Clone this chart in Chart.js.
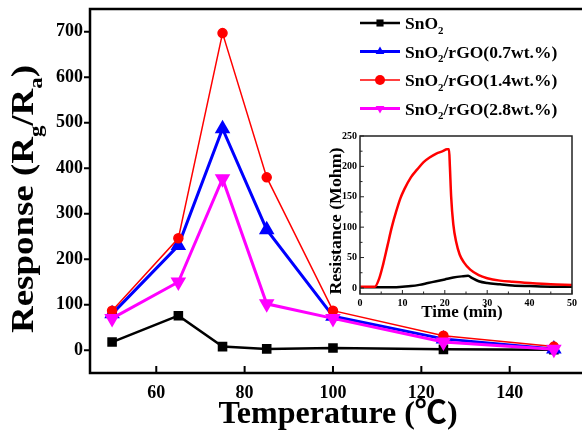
<!DOCTYPE html>
<html>
<head>
<meta charset="utf-8">
<script src="https://cdn.jsdelivr.net/npm/chart.js@4.4.0/dist/chart.umd.min.js"></script>
<style>
  body{margin:0;background:#fff;}
  #wrap{position:relative;width:582px;height:435px;overflow:hidden;}
  #main{position:absolute;left:0;top:0;}
  #inset{position:absolute;left:300px;top:125px;}
</style>
</head>
<body>
<div id="wrap">
  <canvas id="main" width="582" height="435"></canvas>
  <canvas id="inset" width="282" height="205"></canvas>
</div>
<script>
// main chart data
var temps  = [50, 65, 75, 85, 100, 125, 150];
var snO2   = [18, 76, 8, 3, 5, 2, 1];
var rgo07  = [80, 230, 487, 265, 75, 25, 3];
var rgo14  = [87, 246, 697, 380, 87, 32, 8];
var rgo28  = [70, 150, 377, 102, 70, 18, 2];
var xTicks = [60, 80, 100, 120, 140];
var yTicks = [0, 100, 200, 300, 400, 500, 600, 700];

// inset: resistance vs time
var redTime = [0, 3.5, 4.5, 5.5, 6.5, 7.5, 8.5, 9.5, 10.5, 12, 13.5, 15, 16.5, 18, 19.5, 20.5, 21, 21.2, 21.5, 22, 22.7, 23.5, 24.5, 26, 28, 30, 33, 36, 40, 45, 50];
var redRes  = [2, 2, 15, 40, 70, 100, 125, 147, 163, 182, 195, 207, 215, 221, 225, 228, 228, 200, 150, 105, 75, 55, 42, 30, 21, 16, 12, 10, 8, 6, 5];
var blkTime = [0, 8, 10, 12, 14, 16, 18, 20, 22, 24, 25.5, 26.5, 28, 30, 33, 36, 40, 45, 50];
var blkRes  = [1, 1, 2, 3, 5, 8, 11, 14, 17, 19, 20, 16, 11, 8, 6, 4, 3, 2, 2];
var inXTicks = [0, 10, 20, 30, 40, 50];
var inYTicks = [0, 50, 100, 150, 200, 250];

var FAM = '"Liberation Serif", "Times New Roman", "Noto Sans CJK SC", serif';

function pts(xs, ys){ return xs.map(function(v,i){ return {x:v, y:ys[i]}; }); }

function richWidth(ctx, parts, size){
    var w = 0;
    parts.forEach(function(p){
        ctx.font = 'bold ' + (p[1] ? size*0.62 : size) + 'px ' + FAM;
        w += ctx.measureText(p[0]).width;
    });
    return w;
}
function drawRich(ctx, parts, x, y, size){
    var cx = x;
    parts.forEach(function(p){
        ctx.font = 'bold ' + (p[1] ? size*0.62 : size) + 'px ' + FAM;
        ctx.fillText(p[0], cx, y + (p[1] ? size*0.28 : 0));
        cx += ctx.measureText(p[0]).width;
    });
}
function marker(ctx, style, x, y, r, color){
    ctx.fillStyle = color;
    ctx.beginPath();
    if (style === 'rect'){ ctx.rect(x-r*0.71, y-r*0.71, r*1.42, r*1.42); }
    else if (style === 'circle'){ ctx.arc(x, y, r, 0, Math.PI*2); }
    else if (style === 'up'){ ctx.moveTo(x, y-r); ctx.lineTo(x+r*0.87, y+r*0.5); ctx.lineTo(x-r*0.87, y+r*0.5); ctx.closePath(); }
    else { ctx.moveTo(x, y+r); ctx.lineTo(x+r*0.87, y-r*0.5); ctx.lineTo(x-r*0.87, y-r*0.5); ctx.closePath(); }
    ctx.fill();
}
function noPad(s){ s.paddingTop = 0; s.paddingBottom = 0; s.paddingLeft = 0; s.paddingRight = 0; }

var legendRows = [
    {parts:[['SnO'],['2',1]], color:'#000000', w:2.5, m:'rect'},
    {parts:[['SnO'],['2',1],['/rGO(0.7wt.%)']], color:'#0000ff', w:3, m:'up'},
    {parts:[['SnO'],['2',1],['/rGO(1.4wt.%)']], color:'#ff0000', w:1.5, m:'circle'},
    {parts:[['SnO'],['2',1],['/rGO(2.8wt.%)']], color:'#ff00ff', w:3, m:'down'}
];

var mainDeco = {
    id: 'mainDeco',
    afterDraw: function(chart){
        var ctx = chart.ctx, a = chart.chartArea, xs = chart.scales.x, ys = chart.scales.y;
        ctx.save();
        ctx.strokeStyle = '#000';
        ctx.lineWidth = 2.5;
        ctx.beginPath();
        ctx.moveTo(chart.width, a.top); ctx.lineTo(a.left, a.top);
        ctx.lineTo(a.left, a.bottom); ctx.lineTo(chart.width, a.bottom);
        ctx.stroke();
        ctx.lineWidth = 2;
        ctx.beginPath();
        xTicks.forEach(function(v){
            var p = xs.getPixelForValue(v);
            ctx.moveTo(p, a.bottom); ctx.lineTo(p, a.bottom-7);
        });
        yTicks.forEach(function(v){
            var p = ys.getPixelForValue(v);
            ctx.moveTo(a.left-6, p); ctx.lineTo(a.left, p);
        });
        ctx.stroke();

        // axis titles
        ctx.fillStyle = '#000';
        ctx.textBaseline = 'alphabetic';
        var xt = [['Temperature (\u2103)']];
        var w = richWidth(ctx, xt, 32);
        drawRich(ctx, xt, 338 - w/2, 423, 32);

        var yt = [['Response (R'],['g',1],['/R'],['a',1],[')']];
        ctx.save();
        ctx.translate(33, 199);
        ctx.rotate(-Math.PI/2);
        var wy = richWidth(ctx, yt, 32);
        ctx.scale(268/wy, 1);
        drawRich(ctx, yt, -wy/2, 0, 32);
        ctx.restore();

        // legend
        legendRows.forEach(function(r, i){
            var y = 23 + i*28.5;
            ctx.strokeStyle = r.color; ctx.lineWidth = r.w;
            ctx.beginPath(); ctx.moveTo(360, y); ctx.lineTo(400, y); ctx.stroke();
            marker(ctx, r.m, 380, y, 5, r.color);
            ctx.fillStyle = '#000';
            drawRich(ctx, r.parts, 405, y + 6, 17.5);
        });
        ctx.restore();
    }
};

var boldTick = {family: FAM, size: 18, weight: 'bold'};

new Chart(document.getElementById('main'), {
    type: 'scatter',
    data: {
        datasets: [
            {label:'SnO2', data: pts(temps, snO2), showLine:true, borderColor:'#000', backgroundColor:'#000', borderWidth:2.5, pointStyle:'rect', pointRadius:5, order:4},
            {label:'SnO2/rGO(0.7wt.%)', data: pts(temps, rgo07), showLine:true, borderColor:'#0000ff', backgroundColor:'#0000ff', borderWidth:3, pointStyle:'triangle', pointRadius:6, order:3},
            {label:'SnO2/rGO(1.4wt.%)', data: pts(temps, rgo14), showLine:true, borderColor:'#ff0000', backgroundColor:'#ff0000', borderWidth:1.5, pointStyle:'circle', pointRadius:4.5, order:2},
            {label:'SnO2/rGO(2.8wt.%)', data: pts(temps, rgo28), showLine:true, borderColor:'#ff00ff', backgroundColor:'#ff00ff', borderWidth:3, pointStyle:'triangle', pointRotation:180, pointRadius:6, order:1}
        ]
    },
    options: {
        responsive: false,
        animation: false,
        layout: {padding: {top: 8, right: 0, left: 0, bottom: 0}},
        plugins: {legend: {display: false}, tooltip: {enabled: false}},
        elements: {point: {borderWidth: 0}, line: {tension: 0}},
        scales: {
            x: {
                type: 'linear', min: 45, max: 154.33,
                afterBuildTicks: function(s){ s.ticks = xTicks.map(function(v){ return {value:v}; }); },
                afterFit: function(s){ s.height = 62; noPad(s); },
                grid: {display: false, drawTicks: false}, border: {display: false},
                ticks: {font: boldTick, color: '#000', padding: 10, maxRotation: 0, autoSkip: false}
            },
            y: {
                type: 'linear', min: -50, max: 750,
                afterBuildTicks: function(s){ s.ticks = yTicks.map(function(v){ return {value:v}; }); },
                afterFit: function(s){ s.width = 90; noPad(s); },
                grid: {display: false, drawTicks: false}, border: {display: false},
                ticks: {font: boldTick, color: '#000', padding: 7, autoSkip: false}
            }
        }
    },
    plugins: [mainDeco]
});

var insetDeco = {
    id: 'insetDeco',
    afterDraw: function(chart){
        var ctx = chart.ctx, a = chart.chartArea, xs = chart.scales.x, ys = chart.scales.y;
        ctx.save();
        ctx.strokeStyle = '#222';
        ctx.lineWidth = 1.5;
        ctx.strokeRect(a.left, a.top, a.right - a.left, a.bottom - a.top);
        ctx.lineWidth = 1;
        ctx.beginPath();
        for (var t = 0; t <= 50; t += 5){
            var p = xs.getPixelForValue(t), l = (t % 10 === 0) ? 4 : 2.5;
            ctx.moveTo(p, a.bottom); ctx.lineTo(p, a.bottom - l);
        }
        for (var r = 0; r <= 250; r += 25){
            var q = ys.getPixelForValue(r), m = (r % 50 === 0) ? 4 : 2.5;
            ctx.moveTo(a.left, q); ctx.lineTo(a.left + m, q);
        }
        ctx.stroke();
        ctx.fillStyle = '#000';

        // y tick labels of the inset
        ctx.font = 'bold 10px ' + FAM;
        ctx.textAlign = 'right';
        ctx.textBaseline = 'middle';
        inYTicks.forEach(function(v){
            ctx.fillText(String(v), a.left - 3, ys.getPixelForValue(v));
        });
        ctx.textAlign = 'left';
        ctx.textBaseline = 'alphabetic';

        var xt = [['Time (min)']];
        var w = richWidth(ctx, xt, 17);
        drawRich(ctx, xt, 162 - w/2, 192, 17);
        var yt = [['Resistance (Mohm)']];
        ctx.save();
        ctx.translate(41, 96);
        ctx.rotate(-Math.PI/2);
        var wy = richWidth(ctx, yt, 16);
        ctx.scale(147/wy, 1);
        drawRich(ctx, yt, -wy/2, 0, 16);
        ctx.restore();
        ctx.restore();
    }
};

var smallTick = {family: FAM, size: 10, weight: 'bold'};

new Chart(document.getElementById('inset'), {
    type: 'scatter',
    data: {
        datasets: [
            {label:'rGO', data: pts(redTime, redRes), showLine:true, borderColor:'#ff0000', borderWidth:2.5, pointRadius:0, cubicInterpolationMode:'monotone'},
            {label:'SnO2', data: pts(blkTime, blkRes), showLine:true, borderColor:'#000', borderWidth:2.5, pointRadius:0, cubicInterpolationMode:'monotone'}
        ]
    },
    options: {
        responsive: false,
        animation: false,
        layout: {padding: {top: 11, right: 10, left: 0, bottom: 0}},
        plugins: {legend: {display: false}, tooltip: {enabled: false}},
        scales: {
            x: {
                type: 'linear', min: 0, max: 50,
                afterBuildTicks: function(s){ s.ticks = inXTicks.map(function(v){ return {value:v}; }); },
                afterFit: function(s){ s.height = 36; noPad(s); },
                grid: {display: false, drawTicks: false}, border: {display: false},
                ticks: {font: smallTick, color: '#000', padding: 3, maxRotation: 0, autoSkip: false}
            },
            y: {
                type: 'linear', min: -10, max: 250,
                afterBuildTicks: function(s){ s.ticks = inYTicks.map(function(v){ return {value:v}; }); },
                afterFit: function(s){ s.width = 60; noPad(s); },
                grid: {display: false, drawTicks: false}, border: {display: false},
                ticks: {display: false}
            }
        }
    },
    plugins: [insetDeco]
});
</script>
</body>
</html>
